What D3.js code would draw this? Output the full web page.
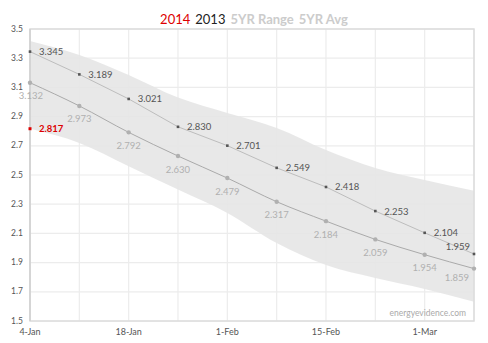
<!DOCTYPE html>
<html><head><meta charset="utf-8">
<script src="https://cdn.jsdelivr.net/npm/d3@7"></script>
<style>
body{margin:0;background:#fff;}
svg{display:block;font-family:Lato, "Open Sans", sans-serif;}
</style></head>
<body><svg id="c" width="488" height="343"></svg>
<script>
const weeks = ["2014-01-04","2014-01-11","2014-01-18","2014-01-25","2014-02-01","2014-02-08","2014-02-15","2014-02-22","2014-03-01","2014-03-08"];
const series2013 = [3.345,3.189,3.021,2.830,2.701,2.549,2.418,2.253,2.104,1.959];
const avg5yr = [3.132,2.973,2.792,2.630,2.479,2.317,2.184,2.059,1.954,1.859];
const rangeHigh = [3.418,3.322,3.185,3.030,2.925,2.822,2.671,2.548,2.466,2.392];
const rangeLow = [2.817,2.720,2.560,2.400,2.240,2.034,1.884,1.795,1.720,1.632];
const series2014 = [2.817];
const yTicks = [1.5,1.7,1.9,2.1,2.3,2.5,2.7,2.9,3.1,3.3,3.5];
const xTickLabels = ["4-Jan","18-Jan","1-Feb","15-Feb","1-Mar"];

const parse = d3.timeParse("%Y-%m-%d");
const dates = weeks.map(parse);
const svg = d3.select("#c");
const L=30,R=474,T=29,B=321;
const x = d3.scaleTime().domain([dates[0],dates[dates.length-1]]).range([L,R]);
const y = d3.scaleLinear().domain([1.5,3.5]).range([B,T]);

// grid
svg.append("g").selectAll("line").data(yTicks).join("line")
  .attr("x1",L).attr("x2",R).attr("y1",d=>y(d)).attr("y2",d=>y(d))
  .attr("stroke","#ececec").attr("stroke-width",1.2);
svg.append("g").selectAll("line").data(dates).join("line")
  .attr("x1",d=>x(d)).attr("x2",d=>x(d)).attr("y1",T).attr("y2",B)
  .attr("stroke","#ececec").attr("stroke-width",1.2);

// band
const band = d3.area().x((d,i)=>x(dates[i])).y0((d,i)=>y(rangeLow[i])).y1(d=>y(d)).curve(d3.curveMonotoneX);
svg.append("path").datum(rangeHigh).attr("d",band).attr("fill","#e6e6e6").attr("opacity",0.9);

// frame
svg.append("rect").attr("x",L).attr("y",T).attr("width",R-L).attr("height",B-T)
  .attr("fill","none").attr("stroke","#dcdcdc").attr("stroke-width",1.5);
svg.append("line").attr("x1",L).attr("x2",L).attr("y1",T).attr("y2",B).attr("stroke","#d0d0d0").attr("stroke-width",1.5);

// lines
const line = d3.line().x((d,i)=>x(dates[i])).y(d=>y(d));
svg.append("path").datum(avg5yr).attr("d",line.curve(d3.curveMonotoneX)).attr("fill","none").attr("stroke","#aaa").attr("stroke-width",1);
svg.append("path").datum(series2013).attr("d",line.curve(d3.curveLinear)).attr("fill","none").attr("stroke","#bdbdbd").attr("stroke-width",1);

// points
svg.append("g").selectAll("circle").data(avg5yr).join("circle")
  .attr("cx",(d,i)=>x(dates[i])).attr("cy",d=>y(d)).attr("r",2.2).attr("fill","#b0b0b0");
svg.append("g").selectAll("rect").data(series2013).join("rect")
  .attr("x",(d,i)=>x(dates[i])-1.3).attr("y",d=>y(d)-1.3).attr("width",2.6).attr("height",2.6).attr("fill","#555");
svg.append("g").selectAll("rect").data(series2014).join("rect")
  .attr("x",(d,i)=>x(dates[i])-1.5).attr("y",d=>y(d)-1.5).attr("width",3).attr("height",3).attr("fill","#d00");

// labels
const n = dates.length;
svg.append("g").selectAll("text").data(series2013).join("text")
  .attr("x",(d,i)=> i===n-1 ? x(dates[i])-4 : x(dates[i])+9)
  .attr("y",(d,i)=> i===n-1 ? y(d)-4 : y(d)+3.5)
  .attr("text-anchor",(d,i)=> i===n-1 ? "end":"start")
  .attr("font-size",9.5).attr("fill","#555").text(d=>d.toFixed(3));
svg.append("g").selectAll("text").data(avg5yr).join("text")
  .attr("x",(d,i)=> i===n-1 ? x(dates[i])-17 : (i===0 ? x(dates[i])+1 : x(dates[i])))
  .attr("y",(d,i)=> i===n-1 ? y(d)+12.5 : y(d)+16.5)
  .attr("text-anchor","middle")
  .attr("font-size",9.5).attr("fill","#b0b0b0").text(d=>d.toFixed(3));
svg.append("g").selectAll("text").data(series2014).join("text")
  .attr("x",(d,i)=>x(dates[i])+9).attr("y",d=>y(d)+3.5)
  .attr("font-size",9.5).attr("font-weight","bold").attr("fill","#d00").text(d=>d.toFixed(3));

// axes labels
svg.append("g").selectAll("text").data(yTicks).join("text")
  .attr("x",11).attr("y",d=>y(d)+2.5).attr("font-size",8.5).attr("fill","#555").text(d=>d.toFixed(1));
const xTickDates = dates.filter((d,i)=>i%2===0);
svg.append("g").selectAll("text").data(xTickDates).join("text")
  .attr("x",d=>x(d)).attr("y",335).attr("text-anchor","middle").attr("font-size",9).attr("fill","#555")
  .text((d,i)=>xTickLabels[i]);

// title
const title = svg.append("text").attr("x",254).attr("y",24).attr("text-anchor","middle").attr("font-size",13);
title.append("tspan").attr("fill","#d00").text("2014");
title.append("tspan").attr("fill","#222").attr("dx",5).text("2013");
title.append("tspan").attr("fill","#ccc").attr("dx",5).attr("font-weight","bold").text("5YR Range");
title.append("tspan").attr("fill","#ccc").attr("dx",5).attr("font-weight","bold").text("5YR Avg");

svg.append("text").attr("x",466).attr("y",316).attr("text-anchor","end").attr("font-size",8.5).attr("fill","#aaa").text("energyevidence.com");
</script></body></html>
